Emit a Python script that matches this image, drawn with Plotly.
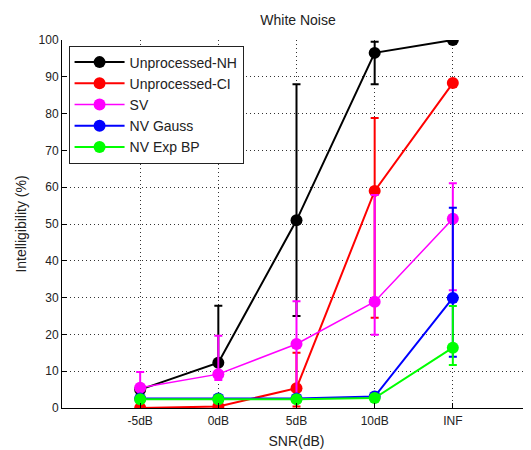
import plotly.graph_objects as go

categories = ["-5dB", "0dB", "5dB", "10dB", "INF"]

nh = [5, 12.3, 51, 96.5, 100]
nh_up = [0, 15.5, 37, 3, 0]
nh_dn = [0, 3, 26, 8.5, 0]

ci = [0, 0.4, 5.4, 59, 88.3]
ci_up = [0, 0, 9.6, 19.8, 0]
ci_dn = [0, 0, 5, 34.5, 0]

sv = [5.5, 9.2, 17.4, 28.9, 51.4]
sv_up = [4.3, 10.4, 11.6, 29, 9.7]
sv_dn = [4, 1.6, 15, 9, 19.4]

gauss = [2.6, 2.6, 2.6, 3.1, 29.9]
gauss_up = [0, 0, 0, 0, 24.5]
gauss_dn = [0, 0, 0, 0, 16]

expbp = [2.4, 2.4, 2.4, 2.7, 16.4]
expbp_up = [0, 0, 0, 0, 11.3]
expbp_dn = [0, 0, 0, 0, 4.7]

series = [
    ("Unprocessed-NH", nh, nh_up, nh_dn, "#000000", 2),
    ("Unprocessed-CI", ci, ci_up, ci_dn, "#ff0000", 2),
    ("SV", sv, sv_up, sv_dn, "#ff00ff", 1.5),
    ("NV Gauss", gauss, gauss_up, gauss_dn, "#0000ff", 2),
    ("NV Exp BP", expbp, expbp_up, expbp_dn, "#00ff00", 2),
]

fig = go.Figure()
for name, y, up, dn, color, lw in series:
    fig.add_trace(go.Scatter(
        x=categories, y=y, name=name, mode="lines+markers",
        line=dict(color=color, width=lw),
        marker=dict(color=color, size=12, symbol="circle"),
        error_y=dict(type="data", symmetric=False, array=up, arrayminus=dn,
                     color=color, thickness=2, width=4),
    ))

font = "Liberation Sans, Arial, sans-serif"
W, H = 523, 442
fig.update_layout(
    width=W, height=H,
    margin=dict(l=54, r=0, t=32, b=42, autoexpand=False),
    paper_bgcolor="white", plot_bgcolor="white",
    font=dict(family=font, size=12, color="#222222"),
    title=dict(text="White Noise", x=290 / W, xref="container", xanchor="center",
               y=1 - 12 / H, yref="container", yanchor="middle",
               font=dict(size=14, color="#222222")),
    showlegend=True,
    legend=dict(x=0.014, y=0.985, xanchor="left", yanchor="top",
                bgcolor="white", bordercolor="#222222", borderwidth=1,
                font=dict(size=14, color="#222222"), itemwidth=50,
                tracegroupgap=0),
    xaxis=dict(type="category", range=[-1, 5], automargin=False,
               title=dict(text="SNR(dB)", font=dict(size=14), standoff=8),
               showgrid=True, gridcolor="#333333", griddash="1px,3px", gridwidth=1,
               showline=True, linecolor="#000000", linewidth=1, mirror=False,
               ticks="inside", ticklen=5, tickcolor="#000000", zeroline=False,
               ticklabelstandoff=2),
    yaxis=dict(range=[0, 100], dtick=10, automargin=False,
               title=dict(text="Intelligibility (%)", font=dict(size=14), standoff=8),
               showgrid=True, gridcolor="#333333", griddash="1px,3px", gridwidth=1,
               showline=True, linecolor="#000000", linewidth=1, mirror=False,
               ticks="inside", ticklen=5, tickcolor="#000000", zeroline=False),
)

fig.write_html("out.html")
